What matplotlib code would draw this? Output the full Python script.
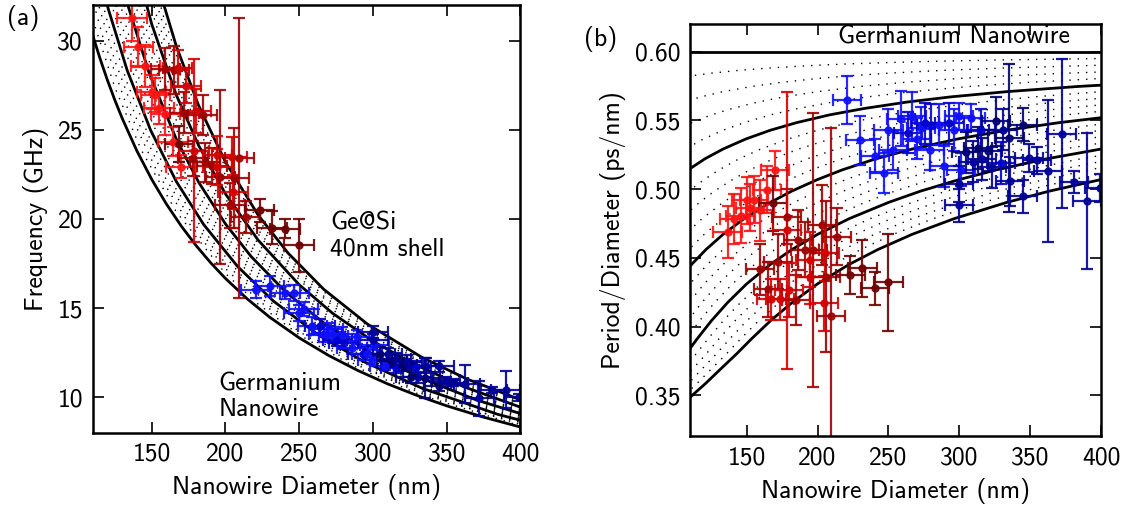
import numpy as np
import matplotlib
matplotlib.use("Agg")
import matplotlib.pyplot as plt

plt.rcParams['font.family'] = ['cmss10', 'DejaVu Sans']
plt.rcParams['mathtext.fontset'] = 'cm'
plt.rcParams['axes.unicode_minus'] = False

# ---------------- data ----------------
# Ge nanowire period/diameter (ps/nm); frequency (GHz) = 2000 / (P/D * diameter)
ge_period_per_nm = 0.60
ge_curve_diam = [100, 110, 115, 120, 125, 130, 140, 150, 160, 170, 180, 190, 200, 215, 230,
                 250, 270, 290, 310, 330, 350, 375, 400, 410]

# universal core-shell curve: shell/diameter ratio -> P/D relative to Ge
shell_ratio = [0.004, 0.005, 0.006, 0.007, 0.008, 0.009, 0.010, 0.012, 0.014, 0.016, 0.018,
               0.020, 0.023, 0.026, 0.030, 0.034, 0.038, 0.043, 0.048, 0.054, 0.060, 0.067,
               0.075, 0.083, 0.092, 0.100, 0.110, 0.120, 0.135, 0.150, 0.165, 0.180, 0.200,
               0.220, 0.240, 0.260, 0.280, 0.300, 0.330, 0.360, 0.400]
period_ratio = [0.9934, 0.9918, 0.9902, 0.9886, 0.9869, 0.9853, 0.9837, 0.9804, 0.9772, 0.9740, 0.9708,
                0.9676, 0.9628, 0.9580, 0.9516, 0.9453, 0.9390, 0.9311, 0.9234, 0.9140, 0.9048, 0.8941,
                0.8820, 0.8701, 0.8567, 0.8450, 0.8310, 0.8172, 0.7975, 0.7785, 0.7600, 0.7420, 0.7185,
                0.6955, 0.6735, 0.6525, 0.6335, 0.6180, 0.5980, 0.5825, 0.5640]
shell_solid = [10, 20, 30, 40]                      # nm
shell_dotted = [2, 4, 6, 8, 12, 14, 16, 18, 22, 24, 26, 28, 32, 34, 36, 38]

# measured nanowires: diameter (nm), period/diameter (ps/nm) and its error, colour shade
diam = [136.5, 141, 145.7, 149.9, 152.5, 155, 159.3, 164.5, 169.9,
        168.7, 178.1, 178.6, 159.3, 165.2, 172.2, 167.5, 173.4, 180, 184.6, 186.3, 191, 196.5,
        194.5, 194.5, 203.2, 205.8, 205, 204.4, 209.5, 213.7, 223.2, 231.6, 240.3, 250,
        220.7, 230, 240.6, 246.7, 250, 253, 259, 264, 266.6, 270, 273.2, 276, 279, 280.2,
        286, 289.5, 293, 296, 299.7, 301, 308, 315.4, 329.5,
        300, 300, 304.8, 310, 313, 316, 320, 323, 326, 330.6, 335.4, 335.8, 344.7, 344.7,
        349.4, 354.6, 362.8, 372.2, 381.1, 390.1, 399]
per_diam = [0.4687, 0.4782, 0.4806, 0.4918, 0.4865, 0.4923, 0.4845, 0.4996, 0.5136,
            0.4899, 0.4800, 0.4700, 0.4417, 0.4271, 0.4473, 0.4198, 0.4198, 0.4266, 0.4193, 0.4631, 0.4558, 0.4555,
            0.4485, 0.4363, 0.4740, 0.4363, 0.4534, 0.4169, 0.4077, 0.4655, 0.4376, 0.4424, 0.4279, 0.4321,
            0.5648, 0.5356, 0.5244, 0.5116, 0.5427, 0.5283, 0.5512, 0.5410, 0.5530, 0.5366, 0.5446, 0.5480, 0.5288, 0.5470,
            0.5470, 0.5167, 0.5480, 0.5430, 0.5530, 0.5140, 0.5520, 0.5433, 0.5190,
            0.5038, 0.4882, 0.5269, 0.5200, 0.5300, 0.5220, 0.5280, 0.5160, 0.5494, 0.5433, 0.5373, 0.5056, 0.5470, 0.4947,
            0.5227, 0.5210, 0.5129, 0.5404, 0.5049, 0.4915, 0.5008]
per_diam_err = [0.019, 0.018, 0.020, 0.017, 0.017, 0.017, 0.022, 0.017, 0.0145,
                0.020, 0.020, 0.101, 0.0185, 0.020, 0.020, 0.015, 0.015, 0.020, 0.018, 0.022, 0.020, 0.0998,
                0.020, 0.020, 0.029, 0.055, 0.020, 0.020, 0.137, 0.0207, 0.014, 0.0207, 0.012, 0.035,
                0.0174, 0.018, 0.012, 0.0146, 0.016, 0.014, 0.020, 0.015, 0.018, 0.015, 0.015, 0.015, 0.015, 0.015,
                0.015, 0.015, 0.015, 0.015, 0.010, 0.012, 0.010, 0.015, 0.015,
                0.013, 0.012, 0.015, 0.015, 0.015, 0.015, 0.015, 0.015, 0.018, 0.015, 0.054, 0.018, 0.012, 0.012,
                0.010, 0.010, 0.0517, 0.054, 0.008, 0.0497, 0.010]
diam_err = [10] * len(diam)
shade = [0, 0, 0, 0, 0, 0, 0, 0, 0,
         3, 2, 1, 2, 2, 2, 1, 1, 1, 2, 2, 2, 2,
         1, 1, 2, 2, 1, 1, 2, 2, 3, 3, 3, 3,
         0, 0, 0, 0, 0, 0, 0, 1, 0, 0, 0, 1, 0, 1,
         0, 0, 1, 0, 0, 0, 0, 1, 1,
         2, 2, 3, 2, 3, 2, 3, 2, 3, 2, 3, 2, 3, 2,
         2, 2, 2, 2, 2, 2, 2]
group = ['r'] * 34 + ['b'] * 44

red_shades = ['#ff1414', '#d40000', '#a00000', '#6e0000']
blue_shades = ['#1010ff', '#0000d0', '#00009a', '#000070']

# ---------------- derived ----------------
d_arr = np.array(diam, float)
pd_arr = np.array(per_diam, float)
pd_err = np.array(per_diam_err, float)
freq = 2000.0 / (pd_arr * d_arr)
freq_err = freq * pd_err / pd_arr

fig = plt.figure(figsize=(11.28, 5.07), dpi=100)
ax1 = fig.add_axes([0.0822, 0.146, 0.3791, 0.8442])
ax2 = fig.add_axes([0.6117, 0.1391, 0.3644, 0.813])

xr = np.array(shell_ratio)
gr = np.array(period_ratio)
dot_style = (0, (1, 5))

def model_curve(t):
    dm = t / xr
    pdm = ge_period_per_nm * gr
    return dm, pdm

for t in shell_dotted:
    dm, pdm = model_curve(t)
    ax2.plot(dm, pdm, color='k', lw=1.0, ls=dot_style)
    ax1.plot(dm, 2000.0 / (pdm * dm), color='k', lw=1.0, ls=dot_style)

gd = np.array(ge_curve_diam, float)
ax2.plot(gd, np.full(gd.shape, ge_period_per_nm), color='k', lw=2.0)
ax1.plot(gd, 2000.0 / (ge_period_per_nm * gd), color='k', lw=2.0)
for t in shell_solid:
    dm, pdm = model_curve(t)
    ax2.plot(dm, pdm, color='k', lw=2.0)
    ax1.plot(dm, 2000.0 / (pdm * dm), color='k', lw=2.0)

for i in range(len(diam)):
    col = red_shades[shade[i]] if group[i] == 'r' else blue_shades[shade[i]]
    kw = dict(fmt='o', ms=5, color=col, ecolor=col, elinewidth=1.6, capsize=4.5,
              capthick=1.6, alpha=0.9)
    ax1.errorbar(diam[i], freq[i], xerr=diam_err[i], yerr=freq_err[i], **kw)
    ax2.errorbar(diam[i], pd_arr[i], xerr=diam_err[i], yerr=pd_err[i], **kw)

fs = 18.5
ax1.set_xlim(110, 400)
ax1.set_ylim(8, 32)
ax1.set_xticks([150, 200, 250, 300, 350, 400])
ax1.set_yticks([10, 15, 20, 25, 30])
ax1.set_xlabel('Nanowire Diameter (nm)', fontsize=fs, labelpad=6)
ax1.set_ylabel('Frequency (GHz)', fontsize=fs, labelpad=6)
ax1.text(271, 20.4, 'Ge@Si\n40nm shell', fontsize=fs, va='top', ha='left', linespacing=1.15)
ax1.text(195.5, 11.4, 'Germanium\nNanowire', fontsize=fs, va='top', ha='left', linespacing=1.15)

ax2.set_xlim(110, 400)
ax2.set_ylim(0.32, 0.62)
ax2.set_xticks([150, 200, 250, 300, 350, 400])
ax2.set_yticks([0.35, 0.40, 0.45, 0.50, 0.55, 0.60])
ax2.set_yticklabels(['0.35', '0.40', '0.45', '0.50', '0.55', '0.60'])
ax2.set_xlabel('Nanowire Diameter (nm)', fontsize=fs, labelpad=6)
ax2.set_ylabel('Period/Diameter (ps/nm)', fontsize=fs, labelpad=6)
ax2.text(296, 0.611, 'Germanium Nanowire', fontsize=fs, va='center', ha='center')

for ax in (ax1, ax2):
    ax.tick_params(direction='in', length=8, width=1.2, labelsize=fs, top=True, right=True, pad=7)
    for sp in ax.spines.values():
        sp.set_linewidth(1.8)

fig.text(0.006, 0.950, '(a)', fontsize=fs)
fig.text(0.518, 0.910, '(b)', fontsize=fs)

fig.savefig('out.png', dpi=100)
